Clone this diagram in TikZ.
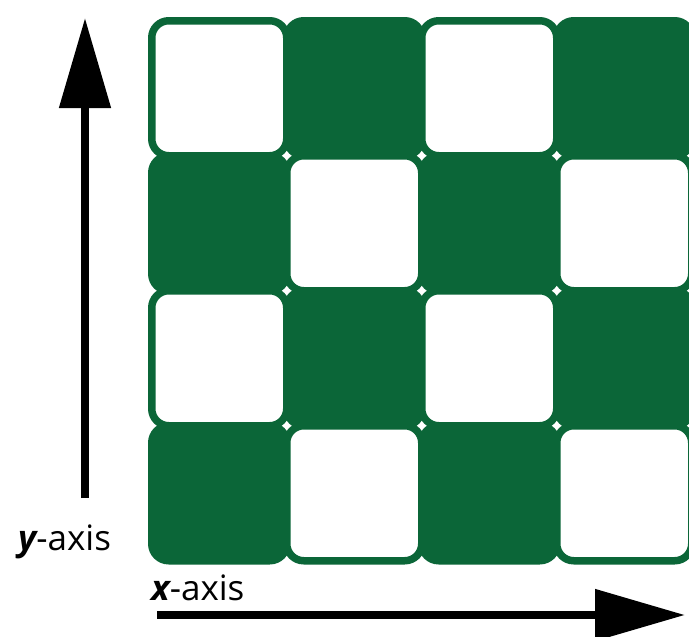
\documentclass[tikz,border=0pt]{standalone}
\usepackage{fontspec}
\setmainfont{Open Sans}
\usetikzlibrary{arrows.meta}
\definecolor{boardgreen}{HTML}{0B6638}
\begin{document}
\begin{tikzpicture}[x=1pt,y=-1pt,
  cell/.style={rectangle, draw=boardgreen, line width=7.5pt, rounded corners=17pt,
    minimum size=135pt, inner sep=0pt, anchor=north west},
  wcell/.style={cell, fill=white},
  gcell/.style={cell, fill=boardgreen},
  axisarrow/.style={line width=8pt, -{Triangle[length=90pt,width=50pt]}},
  lbl/.style={font=\fontsize{35}{40}\selectfont, anchor=base west, inner sep=0pt}]
\useasboundingbox (0,0) rectangle (689,637);
\clip (0,0) rectangle (689,637);
\foreach \i in {0,1,2,3}{
  \foreach \j in {0,1,2,3}{
    \pgfmathtruncatemacro{\parity}{mod(\i+\j,2)}
    \ifnum\parity=0
      \node[wcell] (c-\i-\j) at (148+135*\i, 17+135*\j) {};
    \else
      \node[gcell] (c-\i-\j) at (148+135*\i, 17+135*\j) {};
    \fi
  }
}
\coordinate (ystart) at (85,498);
\coordinate (yend) at (85,18);
\coordinate (xstart) at (157,615);
\coordinate (xend) at (685,615);
\draw[axisarrow] (ystart) -- (yend);
\draw[axisarrow] (xstart) -- (xend);
\node[lbl] (ylab) at (18,550) {\bfseries\itshape y\mdseries\upshape-axis};
\node[lbl] (xlab) at (151,600) {\bfseries\itshape x\mdseries\upshape-axis};
\end{tikzpicture}
\end{document}
